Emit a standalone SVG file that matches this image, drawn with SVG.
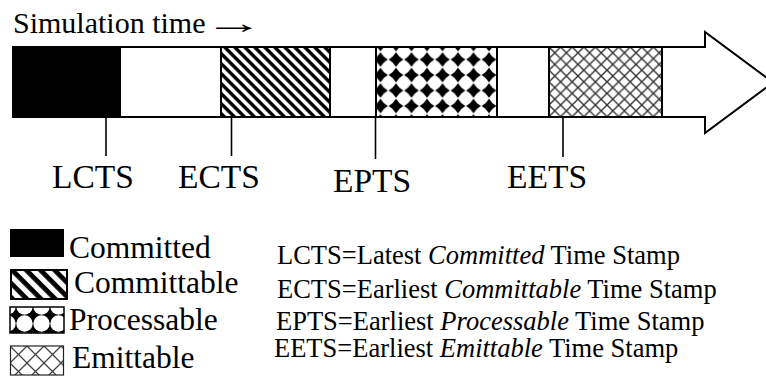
<svg xmlns="http://www.w3.org/2000/svg" width="766" height="379" viewBox="0 0 766 379">
<style>
.t{font-family:"Liberation Serif","Times New Roman",serif;fill:#000}
.lbl{font-size:33.5px}
.leg{font-size:31.5px}
.def{font-size:26.5px}
.ol{fill:none;stroke:#000;stroke-width:2}
.tick{stroke:#000;stroke-width:1.6}
</style>
<defs>
<pattern id="stripes" patternUnits="userSpaceOnUse" width="7.07" height="7.07" patternTransform="rotate(45)">
<rect width="7.07" height="7.07" fill="#fff"/>
<rect width="7.07" height="3.4" fill="#000"/>
</pattern>
<pattern id="stripesL" patternUnits="userSpaceOnUse" width="10" height="10" patternTransform="rotate(45)">
<rect width="10" height="10" fill="#fff"/>
<rect width="10" height="4.8" fill="#000"/>
</pattern>
<pattern id="dots" patternUnits="userSpaceOnUse" x="380.5" y="59.5" width="15.5" height="15.5">
<rect width="15.5" height="15.5" fill="#fff"/>
<path id="dia" d="M0,-7.3 Q2.7,-2.7 7.3,0 Q2.7,2.7 0,7.3 Q-2.7,2.7 -7.3,0 Q-2.7,-2.7 0,-7.3Z" fill="#000"/>
<use href="#dia" x="15.5"/>
<use href="#dia" y="15.5"/>
<use href="#dia" x="15.5" y="15.5"/>
</pattern>
<pattern id="dotsL" patternUnits="userSpaceOnUse" x="16" y="315" width="17" height="17">
<rect width="17" height="17" fill="#000"/>
<circle cx="8.5" cy="8.5" r="8.2" fill="#fff"/>
</pattern>
<pattern id="hatch" patternUnits="userSpaceOnUse" x="549" y="47" width="11.6" height="11.6">
<rect width="11.6" height="11.6" fill="#fff"/>
<path d="M0,0 L11.6,11.6 M11.6,0 L0,11.6" stroke="#333" stroke-width="1.4"/>
</pattern>
<pattern id="hatchL" patternUnits="userSpaceOnUse" x="10" y="346" width="17" height="17">
<rect width="17" height="17" fill="#fff"/>
<path d="M0,0 L17,17 M17,0 L0,17" stroke="#444" stroke-width="1.3"/>
</pattern>
</defs>

<g id="title">
<text class="t" x="13" y="33" font-size="30">Simulation time</text>
<text class="t" font-size="30" transform="translate(204,33) scale(2,1)">→</text>
</g>

<g id="timeline">
<path class="ol" d="M13,47 H705 V32 L773,82.5 L705,133 V117 H13"/>
</g>

<g id="seg-committed"><rect x="13" y="47" width="107" height="70" fill="#000" stroke="#000" stroke-width="2"/></g>
<g id="seg-committable"><rect x="221" y="47" width="109" height="70" fill="url(#stripes)" stroke="#000" stroke-width="2"/></g>
<g id="seg-processable"><rect x="376" y="47" width="121" height="70" fill="url(#dots)" stroke="#000" stroke-width="2"/></g>
<g id="seg-emittable"><rect x="549" y="47" width="113" height="70" fill="url(#hatch)" stroke="#000" stroke-width="2"/></g>

<g id="connectors">
<line class="tick" x1="106" y1="117" x2="106" y2="156"/>
<line class="tick" x1="231.5" y1="117" x2="231.5" y2="156"/>
<line class="tick" x1="375.5" y1="117" x2="375.5" y2="159"/>
<line class="tick" x1="563" y1="117" x2="563" y2="157"/>
</g>

<g id="labels">
<text class="t lbl" x="52" y="188">LCTS</text>
<text class="t lbl" x="178" y="188">ECTS</text>
<text class="t lbl" x="333" y="192">EPTS</text>
<text class="t lbl" x="507" y="188">EETS</text>
</g>

<g id="legend-committed">
<rect x="10" y="229" width="54" height="28" fill="#000"/>
<text class="t leg" x="69" y="258">Committed</text>
</g>
<g id="legend-committable">
<rect x="11" y="270" width="56" height="29" fill="url(#stripesL)" stroke="#000" stroke-width="2"/>
<text class="t leg" x="74" y="293">Committable</text>
</g>
<g id="legend-processable">
<rect x="10" y="307" width="54" height="26" fill="url(#dotsL)" stroke="#000" stroke-width="1.5"/>
<text class="t leg" x="69" y="330">Processable</text>
</g>
<g id="legend-emittable">
<rect x="10.5" y="346" width="53" height="29" fill="url(#hatchL)" stroke="#222" stroke-width="1.2"/>
<text class="t leg" x="72" y="368">Emittable</text>
</g>

<g id="definitions">
<text class="t def" x="277" y="264">LCTS=Latest <tspan font-style="italic">Committed</tspan> Time Stamp</text>
<text class="t def" x="277" y="297.5">ECTS=Earliest <tspan font-style="italic">Committable</tspan> Time Stamp</text>
<text class="t def" x="276" y="330">EPTS=Earliest <tspan font-style="italic">Processable</tspan> Time Stamp</text>
<text class="t def" x="274" y="357">EETS=Earliest <tspan font-style="italic">Emittable</tspan> Time Stamp</text>
</g>
</svg>
